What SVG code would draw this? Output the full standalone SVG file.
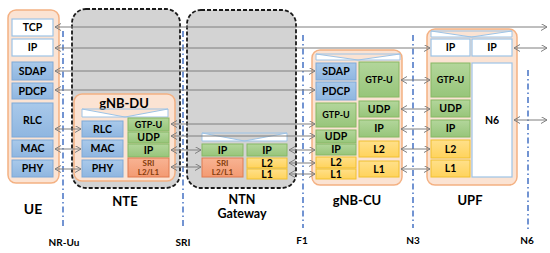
<svg xmlns="http://www.w3.org/2000/svg" width="550" height="253" viewBox="0 0 550 253">
<defs>
<linearGradient id="gb" x1="0" y1="0" x2="0" y2="1"><stop offset="0" stop-color="#a9c9ea"/><stop offset="1" stop-color="#8fb6e0"/></linearGradient>
<linearGradient id="gg" x1="0" y1="0" x2="0" y2="1"><stop offset="0" stop-color="#b3d69b"/><stop offset="1" stop-color="#97c57a"/></linearGradient>
<linearGradient id="gy" x1="0" y1="0" x2="0" y2="1"><stop offset="0" stop-color="#ffe08a"/><stop offset="1" stop-color="#ffd35c"/></linearGradient>
<linearGradient id="gs" x1="0" y1="0" x2="0" y2="1"><stop offset="0" stop-color="#f8b393"/><stop offset="1" stop-color="#f39a72"/></linearGradient>
<marker id="ah" markerUnits="userSpaceOnUse" markerWidth="8" markerHeight="8" refX="6" refY="3.5" orient="auto-start-reverse" viewBox="0 0 8 8">
<path d="M0,0 L6,3.5 L0,7" fill="none" stroke="#7f7f7f" stroke-width="1"/>
</marker>
</defs>
<style>
text{font-family:Lato,"Liberation Sans",sans-serif;font-weight:bold;fill:#000;text-anchor:middle}
.org{fill:#fbe3d3;stroke:#f4b183;stroke-width:1.5}
.gry{fill:#d3d3d3;stroke:#1a1a1a;stroke-width:1.8;stroke-dasharray:4 2}
.w{fill:#fff;stroke:#9dc3e6;stroke-width:1.2}
.b{fill:url(#gb);stroke:#7ea9d8;stroke-width:1}
.g{fill:url(#gg);stroke:#86b865;stroke-width:1}
.y{fill:url(#gy);stroke:#f0c030;stroke-width:1}
.s{fill:url(#gs);stroke:#e07a50;stroke-width:1}
.bt{fill:#fff;stroke:#9dc3e6;stroke-width:1}
.t{font-size:10.5px}
.ts{font-size:9px}
.tr{font-size:8px;fill:#843c0c}
.lb{font-size:13px}
.lu{font-size:10px}
.dl{stroke:#4472c4;stroke-width:1.5;stroke-dasharray:6 3 1.5 3;fill:none}
.ar{stroke:#7f7f7f;stroke-width:1;fill:none;marker-start:url(#ah);marker-end:url(#ah)}
</style>

<g id="interfaces">
<line class="dl" x1="63" y1="31" x2="63" y2="229"/>
<line class="dl" x1="183" y1="31" x2="183" y2="229"/>
<line class="dl" x1="303" y1="35" x2="303" y2="228"/>
<line class="dl" x1="413" y1="35" x2="413" y2="228"/>
<line class="dl" x1="528" y1="70" x2="528" y2="229"/>
<text class="lu" x="64" y="246">NR-Uu</text>
<text class="lu" x="183" y="246">SRI</text>
<text class="lu" x="302" y="244">F1</text>
<text class="lu" x="413" y="244">N3</text>
<text class="lu" x="527" y="244">N6</text>
</g>

<g id="UE">
<rect class="org" x="8" y="10" width="51" height="173" rx="8"/>
<rect class="w" x="12" y="19" width="41" height="17"/><text class="t" x="32.5" y="27.5" dy="0.35em">TCP</text>
<rect class="w" x="12" y="39" width="41" height="17"/><text class="t" x="32.5" y="47.5" dy="0.35em">IP</text>
<rect class="b" x="12" y="62" width="41" height="18"/><text class="t" x="32.5" y="71" dy="0.35em">SDAP</text>
<rect class="b" x="12" y="83" width="41" height="16"/><text class="t" x="32.5" y="91" dy="0.35em">PDCP</text>
<rect class="b" x="12" y="103" width="41" height="34"/><text class="t" x="32.5" y="120" dy="0.35em">RLC</text>
<rect class="b" x="12" y="140" width="41" height="17"/><text class="t" x="32.5" y="148.5" dy="0.35em">MAC</text>
<rect class="b" x="12" y="160" width="41" height="17"/><text class="t" x="32.5" y="168.5" dy="0.35em">PHY</text>
<text class="lb" x="33" y="209" dy="0.35em" style="font-size:14px">UE</text>
</g>

<g id="NTE">
<rect class="gry" x="72" y="9" width="108" height="179" rx="14"/>
<rect class="org" x="74" y="94" width="101" height="87" rx="8"/>
<text x="124" y="103" dy="0.35em" style="font-size:13px">gNB-DU</text>
<path class="bt" d="M82,109 H168 V117 H82 Z M82,109 L125,117 L168,109"/>
<rect class="b" x="82" y="121" width="41" height="16"/><text class="t" x="102.5" y="129" dy="0.35em">RLC</text>
<rect class="b" x="82" y="140" width="41" height="17"/><text class="t" x="102.5" y="148.5" dy="0.35em">MAC</text>
<rect class="b" x="82" y="160" width="41" height="17"/><text class="t" x="102.5" y="168.5" dy="0.35em">PHY</text>
<rect class="g" x="128" y="118" width="41" height="13"/><text class="ts" x="148.5" y="124.5" dy="0.35em">GTP-U</text>
<rect class="g" x="128" y="132" width="41" height="11"/><text class="t" x="148.5" y="137.5" dy="0.35em">UDP</text>
<rect class="g" x="128" y="144" width="41" height="13"/><text class="t" x="148.5" y="150.5" dy="0.35em">IP</text>
<rect class="s" x="128" y="158" width="41" height="19"/><text class="tr" x="148.5" y="163" dy="0.35em">SRI</text><text class="tr" x="148.5" y="172" dy="0.35em">L2/L1</text>
<text class="lb" x="125" y="201" dy="0.35em">NTE</text>
</g>

<g id="NTN-Gateway">
<rect class="gry" x="187" y="10" width="109" height="178" rx="14"/>
<path class="bt" d="M202,133 H287 V141 H202 Z M202,133 L244.5,141 L287,133"/>
<rect class="g" x="202" y="144" width="41" height="12"/><text class="t" x="222.5" y="150" dy="0.35em">IP</text>
<rect class="s" x="202" y="158" width="41" height="19"/><text class="tr" x="222.5" y="163" dy="0.35em">SRI</text><text class="tr" x="222.5" y="172" dy="0.35em">L2/L1</text>
<rect class="g" x="247" y="144" width="40" height="12"/><text class="t" x="267" y="150" dy="0.35em">IP</text>
<rect class="y" x="247" y="158" width="40" height="10"/><text class="t" x="267" y="163" dy="0.35em">L2</text>
<rect class="y" x="247" y="169" width="40" height="10"/><text class="t" x="267" y="174" dy="0.35em">L1</text>
<text class="lb" x="242" y="199.5" dy="0.35em" style="font-size:12.5px">NTN</text>
<text class="lb" x="242" y="213.5" dy="0.35em" style="font-size:12.5px">Gateway</text>
</g>

<g id="gNB-CU">
<rect class="org" x="312" y="50" width="90" height="135" rx="8"/>
<path class="bt" d="M316,54 H400 V60 H316 Z M316,54 L358,60 L400,54"/>
<rect class="b" x="316" y="63" width="40" height="17"/><text class="t" x="336" y="71.5" dy="0.35em">SDAP</text>
<rect class="b" x="316" y="82" width="40" height="18"/><text class="t" x="336" y="91" dy="0.35em">PDCP</text>
<rect class="g" x="316" y="103" width="40" height="24"/><text class="ts" x="336" y="115" dy="0.35em">GTP-U</text>
<rect class="g" x="316" y="130" width="40" height="13"/><text class="t" x="336" y="136.5" dy="0.35em">UDP</text>
<rect class="g" x="316" y="144" width="40" height="11"/><text class="t" x="336" y="149.5" dy="0.35em">IP</text>
<rect class="y" x="316" y="157" width="40" height="11"/><text class="t" x="336" y="162.5" dy="0.35em">L2</text>
<rect class="y" x="316" y="169" width="40" height="10"/><text class="t" x="336" y="174" dy="0.35em">L1</text>
<rect class="g" x="359" y="62" width="40" height="35"/><text class="ts" x="379" y="79.5" dy="0.35em">GTP-U</text>
<rect class="g" x="359" y="101" width="40" height="16"/><text class="t" x="379" y="109" dy="0.35em">UDP</text>
<rect class="g" x="359" y="120" width="40" height="17"/><text class="t" x="379" y="128.5" dy="0.35em">IP</text>
<rect class="y" x="359" y="141" width="40" height="16"/><text class="t" x="379" y="149" dy="0.35em">L2</text>
<rect class="y" x="359" y="161" width="40" height="16"/><text class="t" x="379" y="169" dy="0.35em">L1</text>
<text class="lb" x="357" y="200" dy="0.35em">gNB-CU</text>
</g>

<g id="UPF">
<rect class="org" x="427" y="29" width="90" height="156" rx="8"/>
<path class="bt" d="M431,31 H512 V37 H431 Z M431,31 L471.5,37 L512,31"/>
<rect class="w" x="431" y="39" width="39" height="17"/><text class="t" x="450.5" y="47.5" dy="0.35em">IP</text>
<rect class="w" x="472" y="39" width="40" height="17"/><text class="t" x="492" y="47.5" dy="0.35em">IP</text>
<rect class="g" x="431" y="63" width="39" height="34"/><text class="ts" x="450.5" y="80" dy="0.35em">GTP-U</text>
<rect class="g" x="431" y="100" width="39" height="17"/><text class="t" x="450.5" y="108.5" dy="0.35em">UDP</text>
<rect class="g" x="431" y="120" width="39" height="17"/><text class="t" x="450.5" y="128.5" dy="0.35em">IP</text>
<rect class="y" x="431" y="140" width="39" height="18"/><text class="t" x="450.5" y="149" dy="0.35em">L2</text>
<rect class="y" x="431" y="160" width="39" height="17"/><text class="t" x="450.5" y="168.5" dy="0.35em">L1</text>
<rect class="w" x="472" y="63" width="40" height="114"/><text class="t" x="492" y="120" dy="0.35em">N6</text>
<text class="lb" x="470" y="200" dy="0.35em">UPF</text>
</g>

<g id="connectors">
<line class="ar" x1="55" y1="27" x2="547" y2="27"/>
<line class="ar" x1="55" y1="48" x2="430" y2="48"/>
<line class="ar" x1="55" y1="71" x2="315" y2="71"/>
<line class="ar" x1="55" y1="90" x2="315" y2="90"/>
<line class="ar" x1="55" y1="129" x2="81" y2="129"/>
<line class="ar" x1="55" y1="149" x2="81" y2="149"/>
<line class="ar" x1="55" y1="169" x2="81" y2="169"/>
<line class="ar" x1="171" y1="124" x2="315" y2="124"/>
<line class="ar" x1="171" y1="136" x2="315" y2="136"/>
<line class="ar" x1="171" y1="150" x2="201" y2="150"/>
<line class="ar" x1="171" y1="167" x2="201" y2="167"/>
<line class="ar" x1="289" y1="150" x2="315" y2="150"/>
<line class="ar" x1="289" y1="163" x2="315" y2="163"/>
<line class="ar" x1="289" y1="174" x2="315" y2="174"/>
<line class="ar" x1="401" y1="80" x2="430" y2="80"/>
<line class="ar" x1="401" y1="109" x2="430" y2="109"/>
<line class="ar" x1="401" y1="129" x2="430" y2="129"/>
<line class="ar" x1="401" y1="149" x2="430" y2="149"/>
<line class="ar" x1="401" y1="169" x2="430" y2="169"/>
<line class="ar" x1="514" y1="48" x2="547" y2="48"/>
<line class="ar" x1="514" y1="120" x2="547" y2="120"/>
</g>
</svg>
